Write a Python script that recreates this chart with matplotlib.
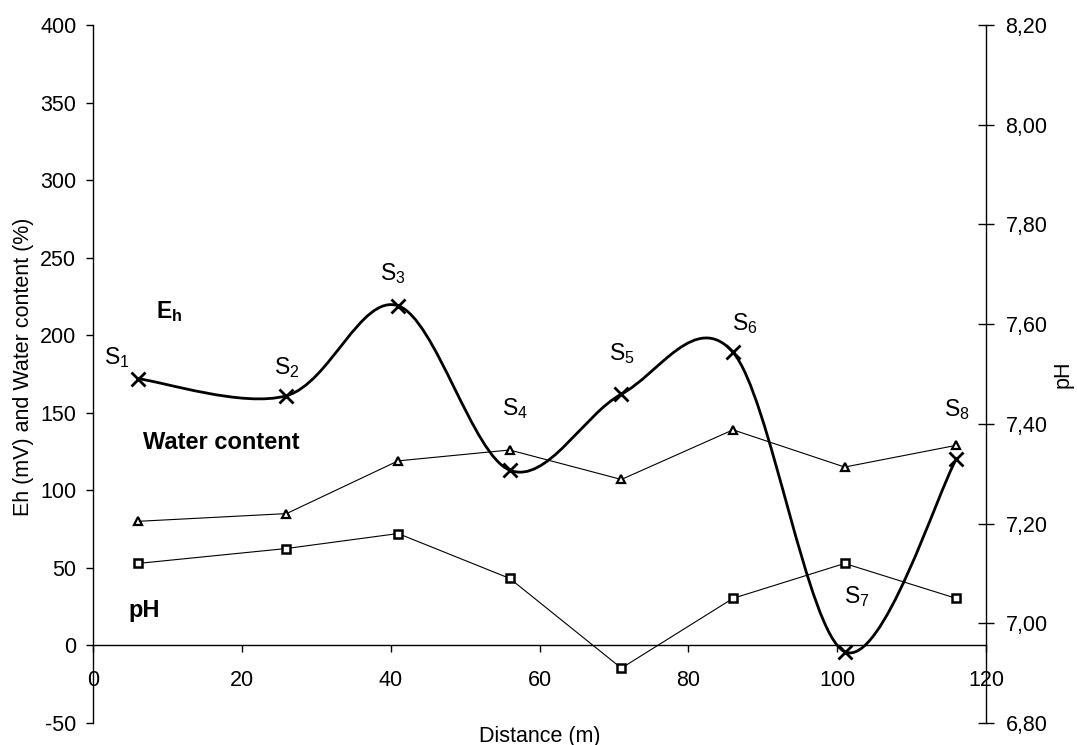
import matplotlib
matplotlib.use("Agg")
import matplotlib.pyplot as plt
from matplotlib.path import Path
from matplotlib.patches import PathPatch
from matplotlib.ticker import FuncFormatter

# sampling points along the profile
distance = [6, 26, 41, 56, 71, 86, 101, 116]
eh = [172, 161, 219, 113, 162, 189, -4, 120]          # mV
water = [80, 85, 119, 126, 107, 139, 115, 129]        # %
ph = [7.12, 7.15, 7.18, 7.09, 6.91, 7.05, 7.12, 7.05]
sites = ["S$_1$", "S$_2$", "S$_3$", "S$_4$", "S$_5$", "S$_6$", "S$_7$", "S$_8$"]

plt.rcParams["font.family"] = ["Liberation Sans", "DejaVu Sans"]
plt.rcParams["mathtext.fontset"] = "custom"
plt.rcParams["mathtext.rm"] = "Liberation Sans"
plt.rcParams["mathtext.bf"] = "Liberation Sans:bold"
plt.rcParams["mathtext.default"] = "regular"
plt.rcParams["axes.unicode_minus"] = False

FS = 15.5


def smooth_path(x, y):
    """Excel-like smoothed line: Catmull-Rom segments as cubic Beziers."""
    pts = list(zip(x, y))
    n = len(pts)
    verts = [pts[0]]
    codes = [Path.MOVETO]
    for i in range(n - 1):
        p0 = pts[max(i - 1, 0)]
        p1, p2 = pts[i], pts[i + 1]
        p3 = pts[min(i + 2, n - 1)]
        c1 = (p1[0] + (p2[0] - p0[0]) / 6, p1[1] + (p2[1] - p0[1]) / 6)
        c2 = (p2[0] - (p3[0] - p1[0]) / 6, p2[1] - (p3[1] - p1[1]) / 6)
        verts += [c1, c2, p2]
        codes += [Path.CURVE4] * 3
    return Path(verts, codes)


fig = plt.figure(figsize=(10.77, 7.45), dpi=100)
ax = fig.add_axes([93 / 1077, 22 / 745, 893 / 1077, 698 / 745])
ax2 = ax.twinx()

# Eh: smoothed thick line with x markers
ax.add_patch(PathPatch(smooth_path(distance, eh), facecolor="none",
                       edgecolor="black", lw=2.0, zorder=3))
ax.plot(distance, eh, ls="none", marker="x", ms=10, mew=2, color="black", zorder=4)

# water content
ax.plot(distance, water, color="black", lw=0.8, marker="^", ms=6, mew=1.6,
        mfc="white", mec="black", zorder=3)

# pH on secondary axis
ax2.plot(distance, ph, color="black", lw=0.8, marker="s", ms=6, mew=1.8,
         mfc="white", mec="black", zorder=3)

ax.set_xlim(0, 120)
ax.set_ylim(-50, 400)
ax.set_xticks(range(0, 121, 20))
ax.set_yticks(range(-50, 401, 50))
ax2.set_ylim(6.8, 8.2)
ax2.set_yticks([6.8, 7.0, 7.2, 7.4, 7.6, 7.8, 8.0, 8.2])
ax2.yaxis.set_major_formatter(FuncFormatter(lambda v, p: f"{v:.2f}".replace(".", ",")))

ax.spines["bottom"].set_position(("data", 0))
for s in ["top", "right"]:
    ax.spines[s].set_visible(False)
for s in ["top", "bottom", "left"]:
    ax2.spines[s].set_visible(False)
for a in (ax, ax2):
    for s in a.spines.values():
        s.set_linewidth(1.0)

ax.tick_params(axis="x", direction="out", length=5, width=1, pad=13, labelsize=FS)
ax.tick_params(axis="y", direction="out", length=5, width=1, pad=7, labelsize=FS)
ax2.tick_params(axis="y", direction="inout", length=12, width=1, pad=8, labelsize=FS)

ax.set_xlabel("Distance (m)", fontsize=FS)
ax.xaxis.set_label_coords(0.5, -0.004)
ax.set_ylabel("Eh (mV) and Water content (%)", fontsize=FS)
ax.yaxis.set_label_coords(-0.066, 0.51)
ax2.set_ylabel("pH", fontsize=FS, rotation=90)
ax2.yaxis.set_label_coords(1.074, 0.5)

# site labels, offset (in pixels) from the Eh markers
offsets = [(-21, 21), (0, 28), (-5, 32), (5, 62), (1, 41), (12, 29), (12, 55), (1, 50)]
for xi, yi, lab, off in zip(distance, eh, sites, offsets):
    ax.annotate(lab, (xi, yi), xytext=off, textcoords="offset pixels",
                ha="center", va="center", fontsize=16.5)

ax.text(10.3, 215, "E$_\\mathbf{h}$", fontsize=16.5, fontweight="bold", ha="center", va="center")
ax.text(17.3, 131, "Water content", fontsize=17, fontweight="bold", ha="center", va="center")
ax.text(6.9, 22.6, "pH", fontsize=17, fontweight="bold", ha="center", va="center")

fig.savefig("out.png", dpi=100)
